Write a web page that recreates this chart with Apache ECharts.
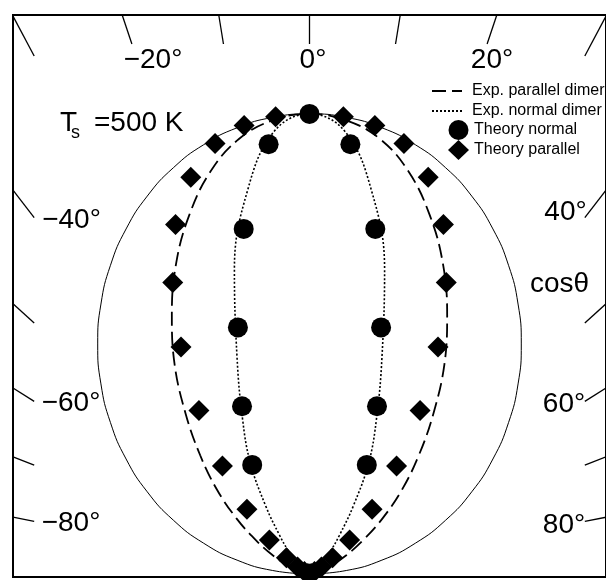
<!DOCTYPE html>
<html><head><meta charset="utf-8">
<script src="https://cdn.jsdelivr.net/npm/echarts@6/dist/echarts.min.js"></script>
<style>html,body{margin:0;padding:0;background:#fff}#c{width:606px;height:580px}</style>
</head><body><div id="c"></div>
<script>
// ---- DATA (polar: angle in degrees from the surface normal, r = normalised flux) ----
const curveAngles = [-90,-85,-80,-75,-70,-65,-60,-55,-50,-45,-40,-35,-30,-25,-20,-15,-10,-5,0,5,10,15,20,25,30,35,40,45,50,55,60,65,70,75,80,85,90];
const expParallel = [0,0.002,0.01,0.025,0.055,0.095,0.145,0.21,0.285,0.365,0.455,0.555,0.65,0.745,0.83,0.905,0.96,0.99,1.0,0.99,0.96,0.905,0.83,0.745,0.65,0.555,0.455,0.365,0.285,0.21,0.145,0.095,0.055,0.025,0.01,0.002,0];
const expNormal = [0,0,0,0.0005,0.002,0.005,0.012,0.024,0.043,0.07,0.11,0.18,0.28,0.375,0.5,0.685,0.845,0.965,1.0,0.965,0.845,0.685,0.5,0.375,0.28,0.18,0.11,0.07,0.043,0.024,0.012,0.005,0.002,0.0005,0,0,0];
const cosRef = [0,0.0872,0.1736,0.2588,0.342,0.4226,0.5,0.5736,0.6428,0.7071,0.766,0.8192,0.866,0.9063,0.9397,0.9659,0.9848,0.9962,1,0.9962,0.9848,0.9659,0.9397,0.9063,0.866,0.8192,0.766,0.7071,0.6428,0.5736,0.5,0.4226,0.342,0.2588,0.1736,0.0872,0];
const theoryParallelAngles = [-75,-70.5,-66,-61.5,-57,-52.1,-46.4,-41.2,-36.3,-31.6,-27.0,-22.6,-18.0,-13.4,-9.0,-4.6,4.6,9.0,13.4,18.0,22.6,27.0,31.6,36.3,41.2,46.4,52.1,57,61.5,66,70.5,75];
const theoryParallelR = [0.001,0.004,0.013,0.032,0.065,0.120,0.204,0.312,0.441,0.579,0.711,0.823,0.907,0.962,0.987,0.997,0.997,0.987,0.962,0.907,0.823,0.711,0.579,0.441,0.312,0.204,0.120,0.065,0.032,0.013,0.004,0.001];
const theoryNormalAngles = [-29.7,-23.6,-17.5,-11.7,-5.9,0,5.9,11.7,17.5,23.6,29.7];
const theoryNormalR = [0.273,0.398,0.562,0.766,0.939,1.0,0.939,0.766,0.562,0.398,0.273];
const tickAngles = [-80,-70,-60,-50,-40,-30,-20,-10,0,10,20,30,40,50,60,70,80];
const angleLabels = ['\u221220\u00b0','0\u00b0','20\u00b0','\u221240\u00b0','40\u00b0','\u221260\u00b0','60\u00b0','\u221280\u00b0','80\u00b0'];
const seriesNames = ['Exp. parallel dimer','Exp. normal dimer','Theory normal','Theory parallel'];

// ---- helpers / layout ----
const rad = d => d * Math.PI / 180;
const toXY = (angles, rs) => angles.map((a, i) => [rs[i] * Math.sin(rad(a)), rs[i] * Math.cos(rad(a))]);
const OUT_X = 0.70, OUT_Y = 1.215, IN_X = 0.65, IN_Y = 1.152;
const tickData = tickAngles.map(a => {
  const s = Math.sin(rad(a)), c = Math.cos(rad(a));
  const tOut = Math.min(Math.abs(s) > 1e-9 ? OUT_X / Math.abs(s) : 1e9, OUT_Y / c);
  const tIn = Math.min(Math.abs(s) > 1e-9 ? IN_X / Math.abs(s) : 1e9, IN_Y / c);
  return [tIn * s, tIn * c, tOut * s, tOut * c];
});
const labelPos = [[153,60],[313,60],[492,60],[71.5,220],[565.5,212.5],[71,403],[564,404.5],[71,523.5],[564,525]];
const FONT = 'Liberation Sans, Arial, Helvetica, sans-serif';
const graphics = angleLabels.map((t, i) => ({
  type: 'text', x: labelPos[i][0], y: labelPos[i][1],
  style: {text: t, fontSize: 28, fontFamily: FONT, fill: '#000', align: 'center', verticalAlign: 'middle'}
}));
graphics.push({type:'text', x:559.5, y:284, style:{text:'cos\u03b8', fontSize:28, fontFamily:FONT, fill:'#000', align:'center', verticalAlign:'middle'}});
graphics.push({type:'text', x:60, y:123, style:{text:'T', fontSize:28, fontFamily:FONT, fill:'#000', align:'left', verticalAlign:'middle'}});
graphics.push({type:'text', x:71, y:133, style:{text:'s', fontSize:18, fontFamily:FONT, fill:'#000', align:'left', verticalAlign:'middle'}});
graphics.push({type:'text', x:94, y:123, style:{text:'=500 K', fontSize:28, fontFamily:FONT, fill:'#000', align:'left', verticalAlign:'middle'}});

const chart = echarts.init(document.getElementById('c'), null, {renderer: 'canvas'});
const legendText = {fontSize: 16, fontFamily: FONT, color: '#000', lineHeight: 20};
chart.setOption({
  backgroundColor: '#fff',
  animation: false,
  grid: {left: 13, top: 15, width: 595, height: 562, show: true, borderColor: '#000', borderWidth: 2, backgroundColor: 'transparent'},
  xAxis: {type: 'value', min: -0.7, max: 0.7, show: false},
  yAxis: {type: 'value', min: -0.0065, max: 1.215, show: false},
  legend: [
    {data: [seriesNames[0], seriesNames[1]], orient: 'vertical', left: 431, top: 81, padding: 0, itemWidth: 30, itemHeight: 20, itemGap: 0, selectedMode: false,
      itemStyle: {opacity: 0}, textStyle: Object.assign({padding: [0,0,0,5]}, legendText)},
    {data: [seriesNames[2], seriesNames[3]], orient: 'vertical', left: 448, top: 120, padding: 0, itemWidth: 21, itemHeight: 20, itemGap: 0, selectedMode: false,
      textStyle: legendText}
  ],
  graphic: graphics,
  series: [
    {name: 'cos', type: 'line', data: toXY(curveAngles, cosRef), smooth: true, symbol: 'none', lineStyle: {color: '#000', width: 1}, z: 2},
    {name: seriesNames[0], type: 'line', data: toXY(curveAngles, expParallel), smooth: 0.4, symbol: 'none', itemStyle: {color: 'rgba(0,0,0,0)'}, lineStyle: {color: '#000', width: 1.8, type: [14, 6]}, z: 3},
    {name: seriesNames[1], type: 'line', data: toXY(curveAngles, expNormal), smooth: 0.4, symbol: 'none', itemStyle: {color: 'rgba(0,0,0,0)'}, lineStyle: {color: '#000', width: 1.6, type: [2, 2]}, z: 3},
    {name: 'ticks', type: 'custom', data: tickData, encode: {x: [0, 2], y: [1, 3]}, clip: false, z: 4,
      renderItem: (params, api) => {
        const p1 = api.coord([api.value(0), api.value(1)]);
        const p2 = api.coord([api.value(2), api.value(3)]);
        return {type: 'line', shape: {x1: p1[0], y1: p1[1], x2: p2[0], y2: p2[1]}, style: {stroke: '#000', lineWidth: 1.3}};
      }},
    {name: seriesNames[3], type: 'scatter', data: toXY(theoryParallelAngles, theoryParallelR), symbol: 'diamond', symbolSize: 21, itemStyle: {color: '#000', opacity: 1}, z: 5},
    {name: seriesNames[2], type: 'scatter', data: toXY(theoryNormalAngles, theoryNormalR), symbol: 'circle', symbolSize: 20, itemStyle: {color: '#000', opacity: 1}, z: 6}
  ]
});
</script></body></html>
